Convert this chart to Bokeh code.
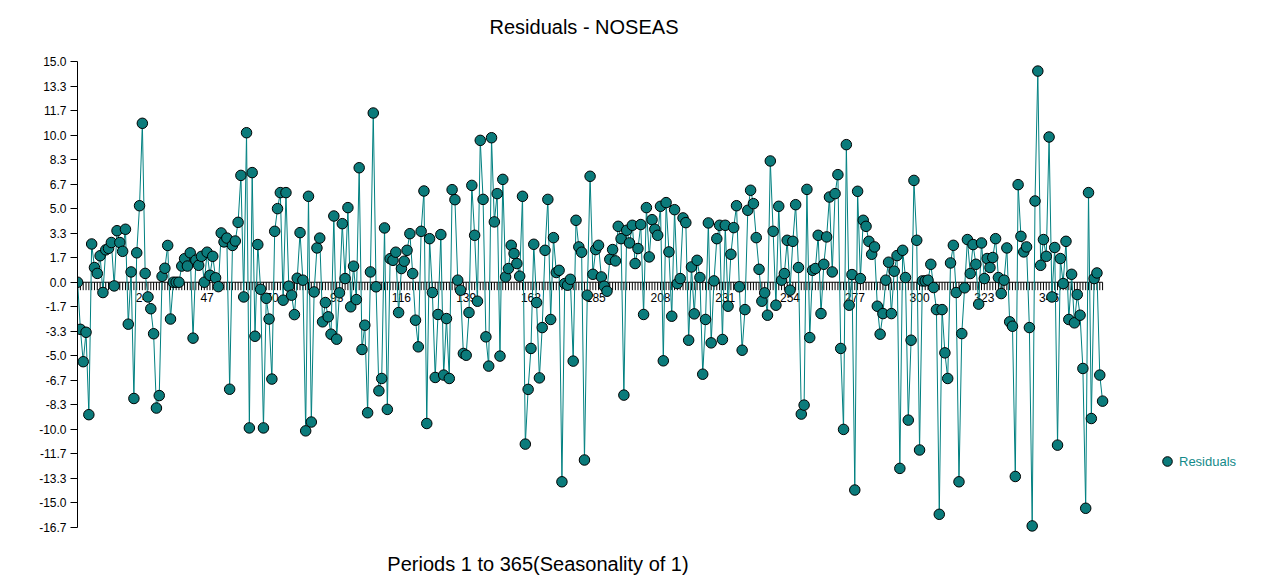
from bokeh.plotting import figure
from bokeh.models import (Range1d, FixedTicker, Legend, LegendItem, Label,
                          NumeralTickFormatter)
from bokeh.embed import file_html
from bokeh.resources import INLINE
from bokeh.core.properties import value

# ---------------- data ----------------
residuals = [
    0.0, -3.2, -5.4, -3.4, -9.0, 2.6, 1.0, 0.6, 1.8, -0.7,
    2.2, 2.3, 2.7, -0.25, 3.5, 2.7, 2.1, 3.6, -2.85, 0.7,
    -7.9, 2.0, 5.2, 10.8, 0.6, -1.0, -1.8, -3.5, -8.55, -7.7,
    0.4, 0.95, 2.5, -2.5, 0.0, 0.0, 0.0, 1.1, 1.6, 1.1,
    2.0, -3.8, 1.5, 1.15, 1.76, 0.0, 2.04, 0.47, 1.76, 0.3,
    -0.3, 3.35, 2.74, 3.0, -7.27, 2.5, 2.8, 4.07, 7.26, -1.0,
    10.16, -9.9, 7.45, -3.67, 2.56, -0.48, -9.9, -1.09, -2.5, -6.58,
    3.46, 5.0, 6.09, -1.22, 6.09, -0.27, -0.88, -2.2, 0.27, 3.37,
    0.14, -10.1, 5.84, -9.5, -0.66, 2.33, 3.0, -2.69, -1.38, -2.35,
    -3.53, 4.5, -3.87, -0.72, 3.98, 0.25, 5.07, -1.67, 1.09, -1.18,
    7.78, -4.57, -2.92, -8.87, 0.7, 11.5, -0.31, -7.38, -6.54, 3.69,
    -8.64, 1.6, 1.49, 2.04, -2.06, 0.93, 1.43, 2.17, 3.3, 0.59,
    -2.58, -4.39, 3.46, 6.2, -9.6, 2.96, -0.7, -6.47, -2.19, 3.24,
    -6.31, -2.47, -6.54, 6.29, 5.61, 0.14, -0.54, -4.84, -4.96, -2.06,
    6.58, 3.19, -1.29, 9.64, 5.63, -3.71, -5.7, 9.82, 4.1, 6.02,
    -5.02, 6.99, 0.36, 0.93, 2.51, 1.95, 1.27, 0.41, 5.84, -11.0,
    -7.28, -4.5, 2.58, -1.38, -6.5, -3.08, 2.17, 5.63, -2.53, 3.03,
    0.66, 0.81, -13.56, -0.09, -0.2, 0.2, -5.36, 4.21, 2.4, 2.04,
    -12.08, -0.88, 7.2, 0.54, 2.22, 2.51, 0.36, -0.27, -0.61, 1.56,
    2.22, 1.45, 3.8, 2.96, -7.67, 3.53, 2.67, 3.87, 1.27, 2.29,
    3.92, -2.19, 5.07, 1.72, 4.25, 3.6, 3.19, 5.16, -5.34, 5.41,
    2.06, -2.31, 4.93, -0.09, 0.25, 4.37, 4.05, -3.94, 1.04, -2.15,
    1.49, 0.32, -6.25, -2.53, 4.03, -4.12, 0.09, 2.96, 3.87, -3.89,
    3.87, -1.63, 1.9, 3.71, 5.2, -0.31, -4.62, -1.86, 4.89, 6.25,
    5.34, 3.03, 0.88, -1.29, -0.72, -2.24, 8.24, 3.46, -1.56, 5.16,
    0.14, 0.59, 2.85, -0.54, 2.78, 5.27, 1.0, -8.96, -8.35, 6.31,
    -3.76, 0.81, 0.93, 3.19, -2.13, 1.22, 3.08, 5.79, 0.7, 6.02,
    7.31, -4.5, -10.0, 9.35, -1.56, 0.52, -14.12, 6.18, 0.25, 4.21,
    3.8, 2.78, 1.9, 2.4, -1.63, -3.53, -2.13, 0.14, 1.36, -2.13,
    0.75, 1.81, -12.65, 2.17, 0.32, -9.37, -3.94, 6.92, 2.85, -11.4,
    0.09, 0.09, 0.14, 1.22, -0.36, -1.86, -15.77, -1.86, -4.8, -6.54,
    1.31, 2.51, -0.7, -13.56, -3.49, -0.38, 2.9, 0.59, 2.56, 1.22,
    -1.49, 2.67, 0.25, 1.61, 1.0, 1.68, 2.96, 0.32, -0.77, 0.14,
    2.33, -2.69, -2.99, -13.2, 6.63, 3.12, 2.06, 2.4, -3.08, -16.56,
    5.52, 14.35, 1.15, 2.9, 1.76, 9.87, -1.0, 2.36, -11.07, 1.61,
    -0.09, 2.78, -2.53, 0.54, -2.76, -0.84, -2.24, -5.86, -15.36, 6.09,
    -9.26, 0.25, 0.63, -6.31, -8.08,
]
periods = list(range(1, len(residuals) + 1))

y_ticks = [15.0, 13.333, 11.667, 10.0, 8.333, 6.667, 5.0, 3.333, 1.667, 0.0,
           -1.667, -3.333, -5.0, -6.667, -8.333, -10.0, -11.667, -13.333, -15.0, -16.667]
x_label_periods = [24, 47, 70, 93, 116, 139, 162, 185, 208, 231, 254, 277, 300, 323, 346]
x_label_texts = [str(v) for v in x_label_periods]

title_text = "Residuals - NOSEAS"
x_title_text = "Periods 1 to 365(Seasonality of 1)"
series_name = "Residuals"

# ---------------- styles / layout ----------------
FONT = "Liberation Sans"
TEAL_LINE = "#008080"
TEAL_FILL = "#0b7b7b"
Y_MIN, Y_MAX = y_ticks[-1], y_ticks[0]

# The frame covers the whole canvas (except the y-axis strip) so that titles and
# the legend can be drawn as annotations without being clipped.
p = figure(width=1255, height=586, output_backend="svg", toolbar_location=None,
           x_range=Range1d(0.97, 419.3), y_range=Range1d(-20.676, 19.145),
           min_border=0, min_border_left=77, min_border_right=0,
           min_border_top=0, min_border_bottom=0)
p.title.text = ""
p.title.visible = False
p.background_fill_color = "white"
p.border_fill_color = "white"
p.outline_line_color = None
p.xgrid.visible = False
p.ygrid.visible = False
p.xaxis.visible = False

# y axis (line limited to the value range)
ya = p.yaxis[0]
ya.bounds = (Y_MIN, Y_MAX)
ya.ticker = FixedTicker(ticks=y_ticks, minor_ticks=[])
ya.formatter = NumeralTickFormatter(format="0.0")
ya.axis_line_color = "black"
ya.major_tick_line_color = "black"
ya.major_tick_out = 7
ya.major_tick_in = 0
ya.minor_tick_out = 0
ya.minor_tick_in = 0
ya.major_label_text_font = FONT
ya.major_label_text_font_size = "12px"
ya.major_label_text_color = "black"
ya.major_label_standoff = 4

# x axis drawn at y = 0
p.line(x=[periods[0], periods[-1]], y=[0, 0], line_color="black", line_width=1)
TICK_LEN = 0.54
p.segment(x0=periods, y0=[0] * len(periods), x1=periods, y1=[-TICK_LEN] * len(periods),
          line_color="black", line_width=1)
p.text(x=x_label_periods, y=[0] * len(x_label_periods), text=x_label_texts,
       text_align="center", text_baseline="top", y_offset=11,
       text_font=value(FONT), text_font_size="12px", text_color="black")

# series
p.line(periods, residuals, line_color=TEAL_LINE, line_width=1)
sc = p.scatter(periods, residuals, size=10.5, fill_color=TEAL_FILL,
               line_color="black", line_width=1)

# titles (screen units relative to frame bottom-left)
p.add_layout(Label(text=title_text, x=506.5, y=560, x_units="screen", y_units="screen",
                   text_align="center", text_baseline="middle", text_font=FONT,
                   text_font_size="20px", text_color="black"))
p.add_layout(Label(text=x_title_text, x=460.5, y=23, x_units="screen", y_units="screen",
                   text_align="center", text_baseline="middle", text_font=FONT,
                   text_font_size="20px", text_color="black"))

legend = Legend(items=[LegendItem(label=series_name, renderers=[sc])],
                location=(1078, 113), padding=0, margin=0,
                border_line_color=None, background_fill_alpha=0,
                label_text_color="#138a8a", label_text_font=FONT,
                label_text_font_size="13px", glyph_width=24, glyph_height=24,
                label_standoff=0)
p.add_layout(legend, "center")

open("out.html", "w").write(file_html(p, INLINE))
